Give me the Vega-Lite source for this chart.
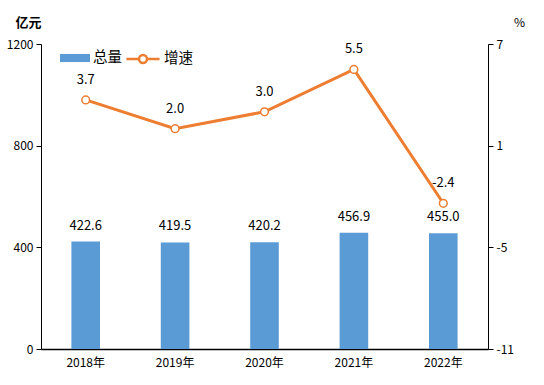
{
  "$schema": "https://vega.github.io/schema/vega-lite/v6.json",
  "autosize": {"type": "none"},
  "width": 447,
  "height": 305,
  "padding": {"left": 41, "top": 44, "right": 56, "bottom": 36},
  "background": "white",
  "config": {
    "view": {"stroke": null},
    "font": "Noto Sans CJK SC",
    "axis": {"labelFont": "Noto Sans CJK SC", "titleFont": "Noto Sans CJK SC", "labelColor": "#000", "titleColor": "#000", "domainColor": "#000", "tickColor": "#000", "grid": false, "labelFontSize": 12},
    "legend": {"labelFont": "Noto Sans CJK SC", "labelFontSize": 14.5, "labelColor": "#000", "padding": 0}
  },
  "data": {
    "values": [
      {"year": "2018年", "total": 422.6, "growth": 3.7, "s1": "总量", "s2": "增速"},
      {"year": "2019年", "total": 419.5, "growth": 2.0, "s1": "总量", "s2": "增速"},
      {"year": "2020年", "total": 420.2, "growth": 3.0, "s1": "总量", "s2": "增速"},
      {"year": "2021年", "total": 456.9, "growth": 5.5, "s1": "总量", "s2": "增速"},
      {"year": "2022年", "total": 455.0, "growth": -2.4, "s1": "总量", "s2": "增速"}
    ]
  },
  "encoding": {
    "x": {"field": "year", "type": "nominal", "sort": null,
      "scale": {"paddingInner": 0.68, "paddingOuter": 0.34},
      "axis": {"title": null, "labelAngle": 0, "ticks": false, "labelPadding": 8, "domainWidth": 1.5, "labelFontSize": 12}}
  },
  "layer": [
    {
      "layer": [
        {
          "mark": {"type": "bar", "color": "#5B9BD5"},
          "encoding": {
            "y": {"field": "total", "type": "quantitative",
              "scale": {"domain": [0, 1200], "nice": false},
              "axis": {"values": [0, 400, 800, 1200], "format": "d", "title": "亿元", "titleAngle": 0, "titleX": -13, "titleY": -22, "titleAlign": "center", "titleBaseline": "middle", "titleFontWeight": "bold", "titleFontSize": 13, "tickSize": 5, "labelPadding": 3}},
            "fill": {"field": "s1", "type": "nominal",
              "scale": {"range": ["#5B9BD5"]},
              "legend": {"title": null, "orient": "none", "legendX": 19, "legendY": -1, "symbolType": "M-1,-0.27H1V0.27H-1Z", "symbolSize": 900, "symbolStrokeWidth": 0, "labelOffset": 3}}
          }
        },
        {
          "mark": {"type": "text", "dy": -16, "fontSize": 13, "color": "#000"},
          "encoding": {
            "y": {"field": "total", "type": "quantitative"},
            "text": {"field": "total", "type": "quantitative", "format": ".1f"}
          }
        }
      ]
    },
    {
      "transform": [{"calculate": "replace(format(datum.growth, '.1f'), '\u2212', '-')", "as": "glabel"}],
      "layer": [
        {
          "mark": {"type": "line", "color": "#ED7D31", "strokeWidth": 3},
          "encoding": {
            "y": {"field": "growth", "type": "quantitative",
              "scale": {"domain": [-11, 7], "nice": false, "zero": false},
              "axis": {"orient": "right", "values": [-11, -5, 1, 7], "labelExpr": "replace(datum.label, '\u2212', '-')", "title": "%", "titleAngle": 0, "titleX": 31, "titleY": -22, "titleAlign": "center", "titleBaseline": "middle", "titleFontWeight": "normal", "titleFontSize": 12, "tickSize": 5, "labelPadding": 3}},
            "stroke": {"field": "s2", "type": "nominal",
              "scale": {"range": ["#ED7D31"]},
              "legend": {"title": null, "orient": "none", "legendX": 84, "legendY": -3, "symbolType": "M-1,0H-0.24M0.24,0H1M-0.24,0A0.24,0.24 0 1,0 0.24,0A0.24,0.24 0 1,0 -0.24,0", "symbolSize": 1100, "symbolStrokeWidth": 2.5, "symbolFillColor": "white", "labelOffset": 3}}
          }
        },
        {
          "mark": {"type": "point", "filled": true, "fill": "white", "stroke": "#ED7D31", "strokeWidth": 1.5, "size": 60, "opacity": 1},
          "encoding": {
            "y": {"field": "growth", "type": "quantitative"}
          }
        },
        {
          "mark": {"type": "text", "dy": -20, "fontSize": 13, "color": "#000"},
          "encoding": {
            "y": {"field": "growth", "type": "quantitative"},
            "text": {"field": "glabel", "type": "nominal"}
          }
        }
      ]
    }
  ],
  "resolve": {"scale": {"y": "independent"}}
}
